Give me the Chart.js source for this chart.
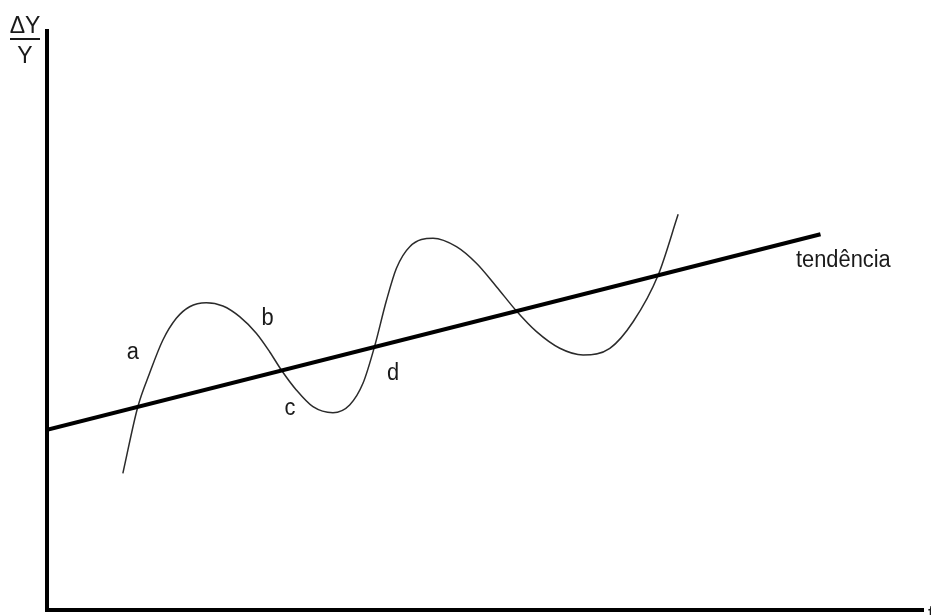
<!DOCTYPE html>
<html>
<head>
<meta charset="utf-8">
<script src="https://cdn.jsdelivr.net/npm/chart.js@4.4.1/dist/chart.umd.min.js"></script>
<style>
    html, body { margin: 0; padding: 0; background: #ffffff; }
    #wrap { width: 931px; height: 615px; }
</style>
</head>
<body>
<div id="wrap"><canvas id="ciclo"></canvas></div>
<script>
// ciclo economico em torno da tendencia (unidades arbitrarias, eixos 0..100)
var cycleX = [8.66, 10.37, 11.71, 13.23, 14.76, 16.28, 18.18, 20.08, 21.99, 23.89, 25.41,
    26.75, 28.46, 30.36, 32.64, 34.55, 36.07, 37.41, 38.74, 39.89, 41.41, 44.07, 46.74,
    49.02, 51.31, 53.59, 55.88, 58.54, 61.20, 64.25, 66.91, 69.77, 72.05];
var cycleY = [23.61, 35.11, 40.88, 46.63, 50.38, 52.38, 53.07, 52.50, 50.66, 47.79, 44.61,
    41.45, 38.00, 35.11, 34.08, 35.41, 39.15, 45.60, 53.40, 59.02, 62.75, 64.20, 62.75,
    59.88, 55.84, 51.64, 48.07, 45.20, 44.04, 45.20, 49.79, 57.86, 68.34];

var trendX = [0, 88.3];
var trendY = [31.1, 64.9];

var pointLabels = ['a', 'b', 'c', 'd', 'tendência'];
var pointLabelX = [9.1, 24.5, 27.1, 38.8, 85.5];
var pointLabelY = [43.4, 49.2, 33.7, 39.7, 59.2];

var yAxisTop = 'ΔY';
var yAxisBottom = 'Y';
var xAxisName = 't';

function toPoints(xs, ys) {
    var pts = [];
    for (var i = 0; i < xs.length; i++) {
        pts.push({x: xs[i], y: ys[i]});
    }
    return pts;
}

var textPlugin = {
    id: 'textos',
    afterDraw: function (chart) {
        var ctx = chart.ctx;
        var xs = chart.scales.x;
        var ys = chart.scales.y;
        var area = chart.chartArea;
        ctx.save();
        ctx.fillStyle = '#1a1a1a';
        ctx.font = '23px "Liberation Sans", Arial, sans-serif';
        ctx.textBaseline = 'alphabetic';
        ctx.textAlign = 'left';
        for (var i = 0; i < pointLabels.length; i++) {
            ctx.save();
            ctx.translate(xs.getPixelForValue(pointLabelX[i]), ys.getPixelForValue(pointLabelY[i]));
            ctx.scale(0.95, 1);
            ctx.fillText(pointLabels[i], 0, 0);
            ctx.restore();
        }
        // rotulo do eixo y: fracao dY/Y
        var cx = area.left - 22;
        ctx.textAlign = 'center';
        ctx.fillText(yAxisTop, cx, area.top + 2);
        ctx.fillText(yAxisBottom, cx, area.top + 32);
        ctx.fillRect(cx - 15, area.top + 7, 30, 2);
        // rotulo do eixo x
        ctx.textAlign = 'left';
        ctx.fillText(xAxisName, area.right + 5, area.bottom + 12);
        ctx.restore();
    }
};

var cicloConfig = {
    type: 'scatter',
    data: {
        datasets: [{
            label: 'tendência',
            data: toPoints(trendX, trendY),
            showLine: true,
            borderColor: '#000000',
            borderWidth: 4,
            pointRadius: 0,
            pointHoverRadius: 0
        }, {
            label: 'ciclo',
            data: toPoints(cycleX, cycleY),
            showLine: true,
            cubicInterpolationMode: 'monotone',
            borderColor: '#2b2b2b',
            borderWidth: 1.5,
            pointRadius: 0,
            pointHoverRadius: 0
        }]
    },
    options: {
        responsive: true,
        maintainAspectRatio: false,
        animation: false,
        layout: {
            padding: {left: 47, right: 8, top: 31, bottom: 5}
        },
        plugins: {
            legend: {display: false},
            tooltip: {enabled: false}
        },
        scales: {
            x: {
                type: 'linear',
                min: 0,
                max: 100,
                grid: {display: false, drawTicks: false},
                ticks: {display: false},
                border: {display: true, color: '#000000', width: 4}
            },
            y: {
                type: 'linear',
                min: 0,
                max: 100,
                grid: {display: false, drawTicks: false},
                ticks: {display: false},
                border: {display: true, color: '#000000', width: 4}
            }
        }
    },
    plugins: [textPlugin]
};

window.onload = function () {
    var ctx = document.getElementById('ciclo').getContext('2d');
    window.cicloChart = new Chart(ctx, cicloConfig);
};
</script>
</body>
</html>
